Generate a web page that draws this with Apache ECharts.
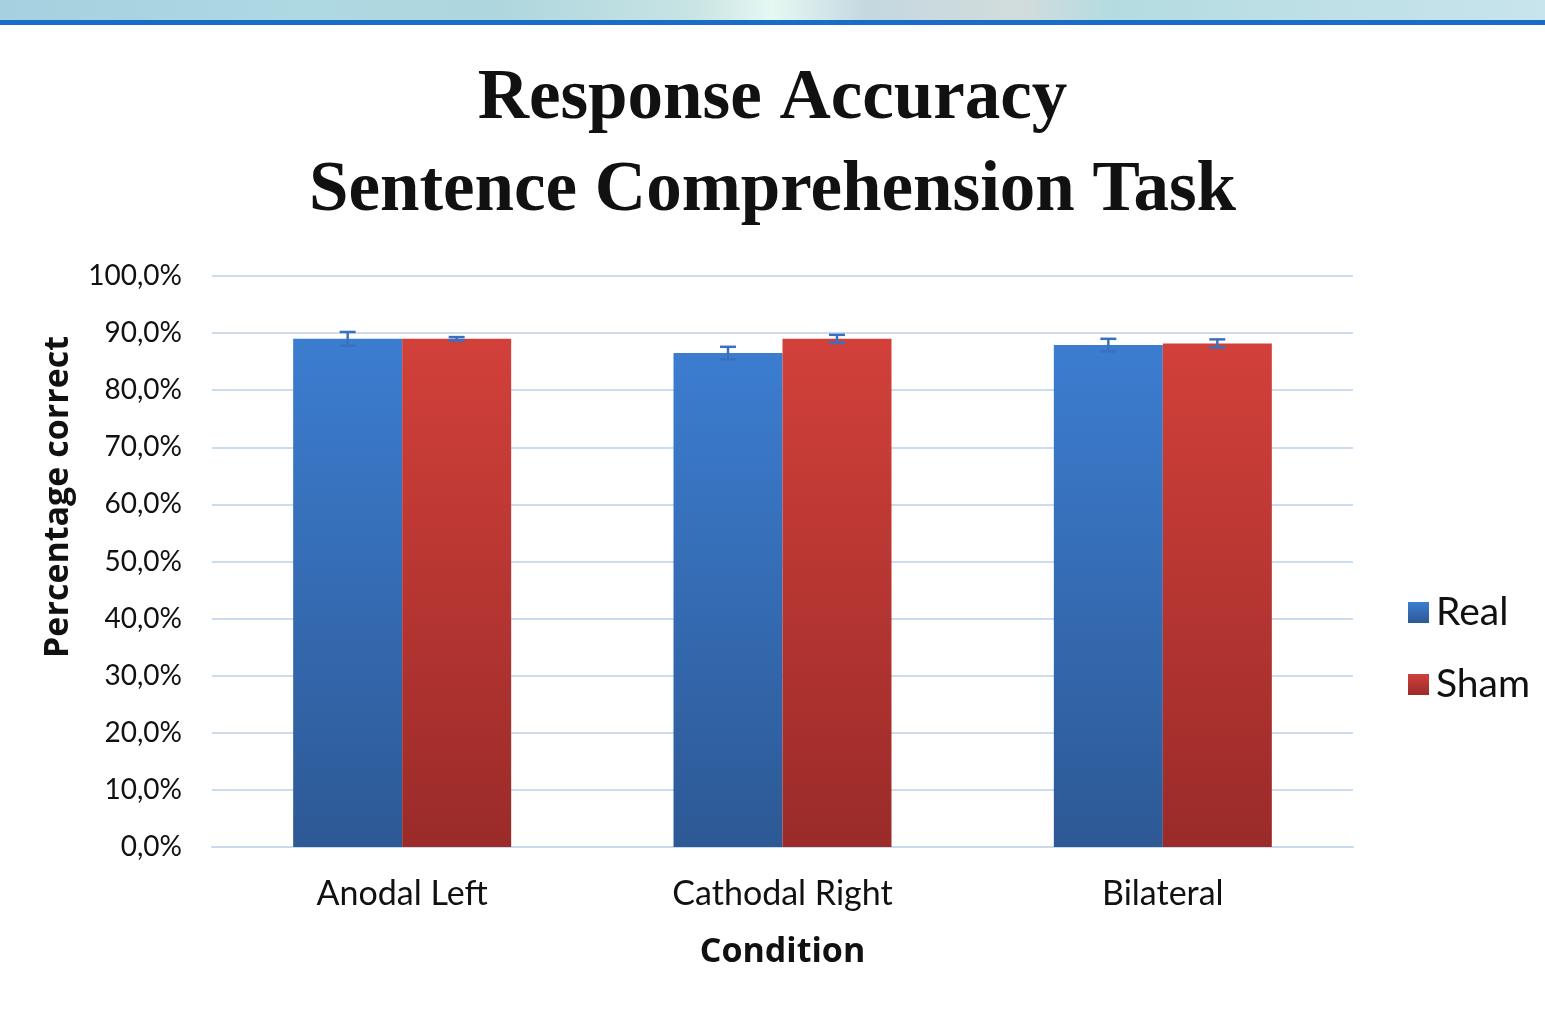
<!DOCTYPE html>
<html>
<head>
<meta charset="utf-8">
<script src="https://cdn.jsdelivr.net/npm/echarts@6/dist/echarts.min.js"></script>
<style>
html,body{margin:0;padding:0;background:#fff;}
#main{width:1545px;height:1024px;}
</style>
</head>
<body>
<div id="main"></div>
<script>
var categories = ['Anodal Left', 'Cathodal Right', 'Bilateral'];
var realValues = [89.0, 86.5, 87.9];
var shamValues = [89.0, 89.0, 88.2];
var realErr = [1.2, 1.1, 1.1];
var shamErr = [0.3, 0.7, 0.7];
var yTicks = [0, 10, 20, 30, 40, 50, 60, 70, 80, 90, 100];

var chart = echarts.init(document.getElementById('main'));

var BAR_W = 109;

function errSeries(name, vals, errs, sign) {
  return {
    type: 'custom',
    name: name + ' err',
    z: 10,
    silent: true,
    data: vals.map(function (v, i) { return [i, v, errs[i]]; }),
    renderItem: function (params, api) {
      var x = api.value(0), v = api.value(1), e = api.value(2);
      var top = api.coord([x, v + e]);
      var bot = api.coord([x, v - e]);
      var cx = top[0] + sign * BAR_W / 2;
      var capW = 8;
      var st = { stroke: '#3a70c0', lineWidth: 2.5 };
      return {
        type: 'group',
        children: [
          { type: 'line', shape: { x1: cx, y1: top[1], x2: cx, y2: bot[1] }, style: st },
          { type: 'line', shape: { x1: cx - capW, y1: top[1], x2: cx + capW, y2: top[1] }, style: st },
          { type: 'line', shape: { x1: cx - capW, y1: bot[1], x2: cx + capW, y2: bot[1] }, style: st }
        ]
      };
    }
  };
}

var blueGrad = new echarts.graphic.LinearGradient(0, 0, 0, 1, [
  { offset: 0, color: '#3c7dd0' }, { offset: 1, color: '#2d5995' }
]);
var redGrad = new echarts.graphic.LinearGradient(0, 0, 0, 1, [
  { offset: 0, color: '#d2403a' }, { offset: 1, color: '#9a2b29' }
]);

var option = {
  backgroundColor: '#ffffff',
  animation: false,
  graphic: [
    {
      type: 'rect', left: 0, top: 0, z: 100,
      shape: { width: 1545, height: 20 },
      style: {
        fill: new echarts.graphic.LinearGradient(0, 0, 1, 0, [
          { offset: 0, color: '#a6d0df' },
          { offset: 0.2, color: '#aed8e2' },
          { offset: 0.32, color: '#aed6de' },
          { offset: 0.45, color: '#c8e4e4' },
          { offset: 0.5, color: '#e6f8f2' },
          { offset: 0.56, color: '#c4d8e0' },
          { offset: 0.66, color: '#d2dcdc' },
          { offset: 0.72, color: '#b4dce0' },
          { offset: 1, color: '#c8e4ec' }
        ])
      }
    },
    {
      type: 'rect', left: 0, top: 20, z: 100,
      shape: { width: 1545, height: 5 },
      style: { fill: '#1a6dc6' }
    },
    {
      type: 'text', left: 'center', top: 54, z: 100,
      style: {
        text: 'Response Accuracy\nSentence Comprehension Task',
        font: 'bold 71px "Liberation Serif", serif',
        lineHeight: 92,
        textAlign: 'center',
        fill: '#111111'
      }
    },
    {
      type: 'text', z: 100,
      x: 58, y: 497, rotation: Math.PI / 2,
      style: {
        text: 'Percentage correct',
        font: 'bold 34px "Open Sans", sans-serif',
        textAlign: 'center',
        textVerticalAlign: 'middle',
        fill: '#111111'
      }
    }
  ],
  grid: { left: 212, right: 192, top: 276, bottom: 177 },
  legend: {
    orient: 'vertical',
    left: 1403,
    top: 588,
    icon: 'rect',
    itemWidth: 21,
    itemHeight: 21,
    itemGap: 33,
    data: ['Real', 'Sham'],
    textStyle: { fontFamily: 'Lato', fontSize: 39, color: '#111', padding: [0, 0, 0, 2] }
  },
  xAxis: {
    type: 'category',
    data: categories,
    name: 'Condition',
    nameLocation: 'middle',
    nameGap: 88,
    nameTextStyle: { fontFamily: 'Open Sans', fontWeight: 'bold', fontSize: 34, color: '#111' },
    axisLine: { show: true, lineStyle: { color: '#c9d9ee', width: 2 } },
    axisTick: { show: false },
    axisLabel: { fontFamily: 'Lato', fontSize: 34, color: '#111', margin: 30 }
  },
  yAxis: {
    type: 'value',
    min: 0, max: 100, interval: 10,
    axisLine: { show: false },
    axisTick: { show: false },
    splitLine: { lineStyle: { color: '#cbdcef', width: 2 } },
    axisLabel: {
      fontFamily: 'Lato', fontSize: 28, color: '#111', margin: 30,
      formatter: function (v) { return v.toFixed(1).replace('.', ',') + '%'; }
    }
  },
  series: [
    { type: 'bar', name: 'Real', data: realValues, barWidth: BAR_W, barGap: '0%',
      itemStyle: { color: blueGrad } },
    { type: 'bar', name: 'Sham', data: shamValues, barWidth: BAR_W, barGap: '0%',
      itemStyle: { color: redGrad } },
    errSeries('Real', realValues, realErr, -1),
    errSeries('Sham', shamValues, shamErr, 1)
  ]
};
chart.setOption(option);
</script>
</body>
</html>
